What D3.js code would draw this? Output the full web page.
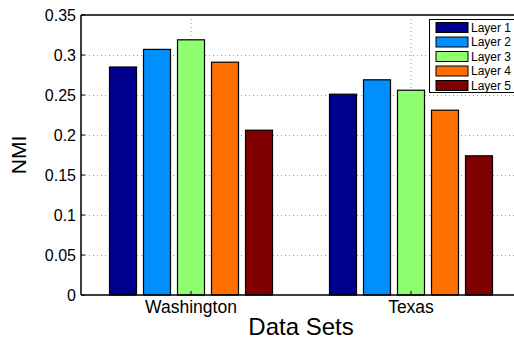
<!DOCTYPE html>
<html>
<head>
<meta charset="utf-8">
<script src="https://cdn.jsdelivr.net/npm/d3@7"></script>
<style>
  html, body { margin: 0; padding: 0; background: #fff; }
  svg { display: block; }
  text { font-family: "Liberation Sans", Arial, Helvetica, sans-serif; fill: #000; }
</style>
</head>
<body>
<svg id="chart" width="514" height="339"></svg>
<script>
const categories = ["Washington", "Texas"];
const layers = ["Layer 1", "Layer 2", "Layer 3", "Layer 4", "Layer 5"];
const layer1 = [0.285, 0.251];
const layer2 = [0.307, 0.269];
const layer3 = [0.319, 0.256];
const layer4 = [0.291, 0.231];
const layer5 = [0.206, 0.174];
const yTicks = [0, 0.05, 0.1, 0.15, 0.2, 0.25, 0.3, 0.35];
const yTickLabels = ["0", "0.05", "0.1", "0.15", "0.2", "0.25", "0.3", "0.35"];
const colors = ["#00008f", "#008fff", "#8fff70", "#ff7000", "#800000"];

const seriesValues = [layer1, layer2, layer3, layer4, layer5];

const svg = d3.select("#chart");
const pLeft = 81, pRight = 521, pTop = 15, pBottom = 295;

const x = d3.scaleBand().domain(categories).range([pLeft, pRight]).padding(0);
const groupW = 170;
const xi = d3.scaleBand().domain(layers).range([0, groupW]).paddingInner(0.206).paddingOuter(0.103);
const y = d3.scaleLinear().domain([0, 0.35]).range([pBottom, pTop]);

// grid (dotted)
const grid = svg.append("g");
grid.selectAll("line.h").data(yTicks.filter(t => t > 0 && t < 0.35)).enter()
  .append("line")
  .attr("x1", pLeft).attr("x2", pRight)
  .attr("y1", d => Math.round(y(d)) + 0.5).attr("y2", d => Math.round(y(d)) + 0.5)
  .attr("stroke", "#999").attr("stroke-width", 1).attr("stroke-dasharray", "1,3");
grid.selectAll("line.v").data(categories).enter()
  .append("line")
  .attr("x1", d => x(d) + x.bandwidth() / 2).attr("x2", d => x(d) + x.bandwidth() / 2)
  .attr("y1", pTop).attr("y2", pBottom)
  .attr("stroke", "#999").attr("stroke-width", 1).attr("stroke-dasharray", "1,3");

// bars
const barData = [];
categories.forEach((c, ci) => {
  layers.forEach((l, li) => {
    barData.push({ cat: c, layer: l, li: li, v: seriesValues[li][ci] });
  });
});
svg.append("g").selectAll("rect").data(barData).enter()
  .append("rect")
  .attr("x", d => x(d.cat) + x.bandwidth() / 2 - groupW / 2 + xi(d.layer))
  .attr("y", d => y(d.v))
  .attr("width", xi.bandwidth())
  .attr("height", d => pBottom - y(d.v))
  .attr("fill", d => colors[d.li])
  .attr("stroke", "#000")
  .attr("stroke-width", 1.2);

// axis box
const axisG = svg.append("g");
axisG.append("line").attr("x1", pLeft).attr("x2", pRight).attr("y1", pBottom).attr("y2", pBottom)
  .attr("stroke", "#000").attr("stroke-width", 1.5);
axisG.append("line").attr("x1", pLeft).attr("x2", pRight).attr("y1", pTop).attr("y2", pTop)
  .attr("stroke", "#000").attr("stroke-width", 1.5);
axisG.append("line").attr("x1", pLeft).attr("x2", pLeft).attr("y1", pTop).attr("y2", pBottom)
  .attr("stroke", "#000").attr("stroke-width", 1.5);

// y ticks (inward) and labels
axisG.selectAll("line.yt").data(yTicks).enter()
  .append("line")
  .attr("x1", pLeft).attr("x2", pLeft + 4)
  .attr("y1", d => y(d)).attr("y2", d => y(d))
  .attr("stroke", "#000").attr("stroke-width", 1);
axisG.selectAll("text.yl").data(yTicks).enter()
  .append("text")
  .attr("x", pLeft - 5)
  .attr("y", d => y(d))
  .attr("dy", "0.36em")
  .attr("text-anchor", "end")
  .style("font-size", "16px")
  .text((d, i) => yTickLabels[i]);

// x ticks (inward) and category labels
axisG.selectAll("line.xt").data(categories).enter()
  .append("line")
  .attr("x1", d => x(d) + x.bandwidth() / 2).attr("x2", d => x(d) + x.bandwidth() / 2)
  .attr("y1", pBottom).attr("y2", pBottom - 4)
  .attr("stroke", "#000").attr("stroke-width", 1);
axisG.selectAll("text.xl").data(categories).enter()
  .append("text")
  .attr("x", d => x(d) + x.bandwidth() / 2)
  .attr("y", 313)
  .attr("text-anchor", "middle")
  .style("font-size", "17.5px")
  .text(d => d);

// axis titles
svg.append("text")
  .attr("x", (pLeft + pRight) / 2).attr("y", 335)
  .attr("text-anchor", "middle")
  .style("font-size", "24px")
  .text("Data Sets");
svg.append("text")
  .attr("transform", "translate(26,155) rotate(-90)")
  .attr("text-anchor", "middle")
  .style("font-size", "21px")
  .text("NMI");

// legend
const lg = svg.append("g");
lg.append("rect").attr("x", 429.5).attr("y", 19.5).attr("width", 100).attr("height", 73)
  .attr("fill", "#fff").attr("stroke", "#000").attr("stroke-width", 1);
layers.forEach((l, i) => {
  const yy = 22.5 + i * 14.5;
  lg.append("rect").attr("x", 436).attr("y", yy).attr("width", 32).attr("height", 10)
    .attr("fill", colors[i]).attr("stroke", "#000").attr("stroke-width", 1);
  lg.append("text").attr("x", 471).attr("y", yy + 5).attr("dy", "0.36em")
    .style("font-size", "12px").text(l);
});
</script>
</body>
</html>
